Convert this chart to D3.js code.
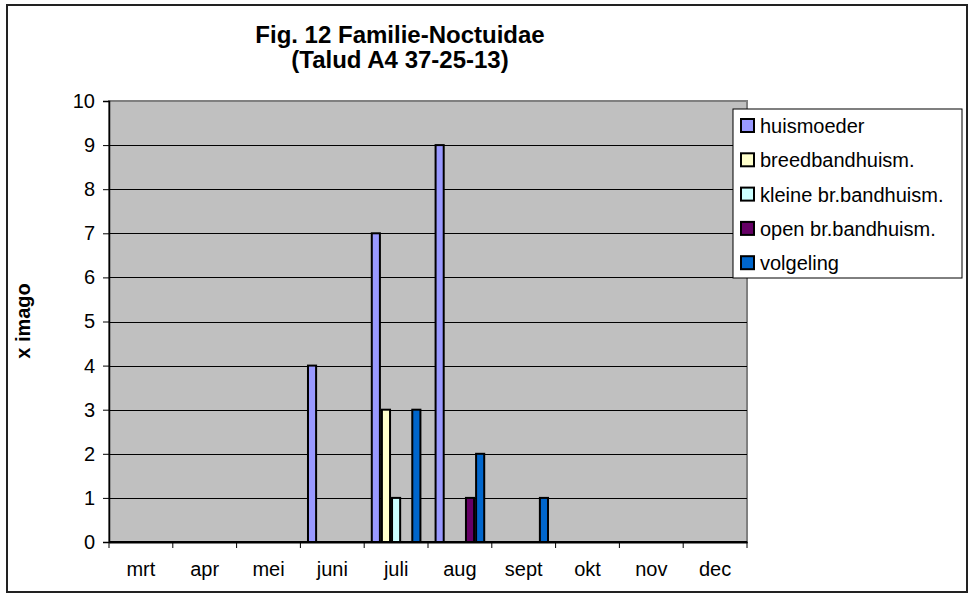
<!DOCTYPE html>
<html>
<head>
<meta charset="utf-8">
<script src="https://cdn.jsdelivr.net/npm/d3@7"></script>
<style>
  body { margin: 0; background: #fff; }
  svg { display: block; font-family: "Liberation Sans", Arial, sans-serif; }
</style>
</head>
<body>
<div id="main"></div>
<script>
// chart data
var months = ["mrt", "apr", "mei", "juni", "juli", "aug", "sept", "okt", "nov", "dec"];
var seriesNames = ["huismoeder", "breedbandhuism.", "kleine br.bandhuism.", "open br.bandhuism.", "volgeling"];
var huismoeder = [0, 0, 0, 4, 7, 9, 0, 0, 0, 0];
var breedband = [0, 0, 0, 0, 3, 0, 0, 0, 0, 0];
var kleineBr = [0, 0, 0, 0, 1, 0, 0, 0, 0, 0];
var openBr = [0, 0, 0, 0, 0, 1, 0, 0, 0, 0];
var volgeling = [0, 0, 0, 0, 3, 2, 1, 0, 0, 0];
var seriesColors = ["#9999FF", "#FFFFCC", "#CCFFFF", "#660066", "#0066CC"];
var yTicks = [0, 1, 2, 3, 4, 5, 6, 7, 8, 9, 10];

var allSeries = [huismoeder, breedband, kleineBr, openBr, volgeling];

var width = 970;
var height = 601;
var plot = { left: 109, right: 747, top: 101, bottom: 542 };

var svg = d3.select("#main").append("svg")
  .attr("width", width)
  .attr("height", height);

// outer frame
svg.append("rect")
  .attr("x", 7).attr("y", 5)
  .attr("width", 960).attr("height", 587)
  .attr("fill", "#fff")
  .attr("stroke", "#222")
  .attr("stroke-width", 2);

var x0 = d3.scaleBand()
  .domain(months)
  .range([plot.left, plot.right])
  .paddingInner(0).paddingOuter(0);

var x1 = d3.scaleBand()
  .domain(seriesNames)
  .range([0, x0.bandwidth()])
  .paddingInner(0).paddingOuter(0.65);

var y = d3.scaleLinear()
  .domain([0, 10])
  .range([plot.bottom, plot.top]);

// plot background
svg.append("rect")
  .attr("x", plot.left).attr("y", plot.top)
  .attr("width", plot.right - plot.left)
  .attr("height", plot.bottom - plot.top)
  .attr("fill", "#C0C0C0")
  .attr("stroke", "#808080")
  .attr("stroke-width", 2);

// gridlines
svg.append("g").selectAll("line")
  .data(yTicks.filter(function(d) { return d > 0 && d < 10; }))
  .enter().append("line")
  .attr("x1", plot.left).attr("x2", plot.right)
  .attr("y1", function(d) { return Math.round(y(d)) + 0.5; })
  .attr("y2", function(d) { return Math.round(y(d)) + 0.5; })
  .attr("stroke", "#000")
  .attr("stroke-width", 1);

// y axis
var yAxis = svg.append("g")
  .attr("transform", "translate(" + plot.left + ",0)")
  .call(d3.axisLeft(y).tickValues(yTicks).tickSize(6).tickPadding(8).tickFormat(d3.format("d")));
yAxis.select(".domain").attr("stroke", "#000").attr("stroke-width", 1.5);
yAxis.selectAll(".tick line").attr("stroke", "#000");
yAxis.selectAll("text")
  .attr("font-size", "20px")
  .attr("font-family", "'Liberation Sans', Arial, sans-serif")
  .attr("fill", "#000");

// x axis
var xAxis = svg.append("g")
  .attr("transform", "translate(0," + plot.bottom + ")")
  .call(d3.axisBottom(x0).tickSize(0).tickPadding(20));
xAxis.select(".domain").attr("stroke", "#000").attr("stroke-width", 2);
xAxis.selectAll("text")
  .attr("font-size", "20px")
  .attr("font-family", "'Liberation Sans', Arial, sans-serif")
  .attr("fill", "#000");

// category boundary ticks
svg.append("g").selectAll("line")
  .data(months.concat(["end"]))
  .enter().append("line")
  .attr("x1", function(d, i) { return (i < months.length ? x0(d) : plot.right); })
  .attr("x2", function(d, i) { return (i < months.length ? x0(d) : plot.right); })
  .attr("y1", plot.bottom)
  .attr("y2", plot.bottom + 6)
  .attr("stroke", "#000")
  .attr("stroke-width", 1);

// bars
var barData = [];
allSeries.forEach(function(values, s) {
  values.forEach(function(v, m) {
    if (v > 0) {
      barData.push({ month: months[m], series: seriesNames[s], value: v, color: seriesColors[s] });
    }
  });
});

svg.append("g").selectAll("rect")
  .data(barData)
  .enter().append("rect")
  .attr("x", function(d) { return x0(d.month) + x1(d.series) + 1; })
  .attr("width", x1.bandwidth() - 2)
  .attr("y", function(d) { return y(d.value); })
  .attr("height", function(d) { return y(0) - y(d.value); })
  .attr("fill", function(d) { return d.color; })
  .attr("stroke", "#000")
  .attr("stroke-width", 2);

// x axis baseline on top of bars
svg.append("line")
  .attr("x1", plot.left).attr("x2", plot.right)
  .attr("y1", plot.bottom).attr("y2", plot.bottom)
  .attr("stroke", "#000").attr("stroke-width", 2);

// title
var title = svg.append("text")
  .attr("text-anchor", "middle")
  .attr("font-weight", "bold")
  .attr("font-size", "24px")
  .attr("fill", "#000");
title.append("tspan").attr("x", 400).attr("y", 43).text("Fig. 12 Familie-Noctuidae");
title.append("tspan").attr("x", 400).attr("y", 68).text("(Talud A4 37-25-13)");

// y axis label
svg.append("text")
  .attr("transform", "translate(30,321) rotate(-90)")
  .attr("text-anchor", "middle")
  .attr("font-weight", "bold")
  .attr("font-size", "20px")
  .attr("fill", "#000")
  .text("x imago");

// legend
var legend = svg.append("g");
legend.append("rect")
  .attr("x", 733).attr("y", 109)
  .attr("width", 229).attr("height", 169)
  .attr("fill", "#fff")
  .attr("stroke", "#000")
  .attr("stroke-width", 1);

var rows = legend.selectAll("g.row")
  .data(seriesNames)
  .enter().append("g")
  .attr("class", "row")
  .attr("transform", function(d, i) { return "translate(741," + (126 + i * 34.3) + ")"; });

rows.append("rect")
  .attr("x", 0).attr("y", -7)
  .attr("width", 13).attr("height", 13)
  .attr("fill", function(d, i) { return seriesColors[i]; })
  .attr("stroke", "#000")
  .attr("stroke-width", 2);

rows.append("text")
  .attr("x", 19)
  .attr("dy", "0.35em")
  .attr("font-size", "20px")
  .attr("fill", "#000")
  .text(function(d) { return d; });
</script>
</body>
</html>
